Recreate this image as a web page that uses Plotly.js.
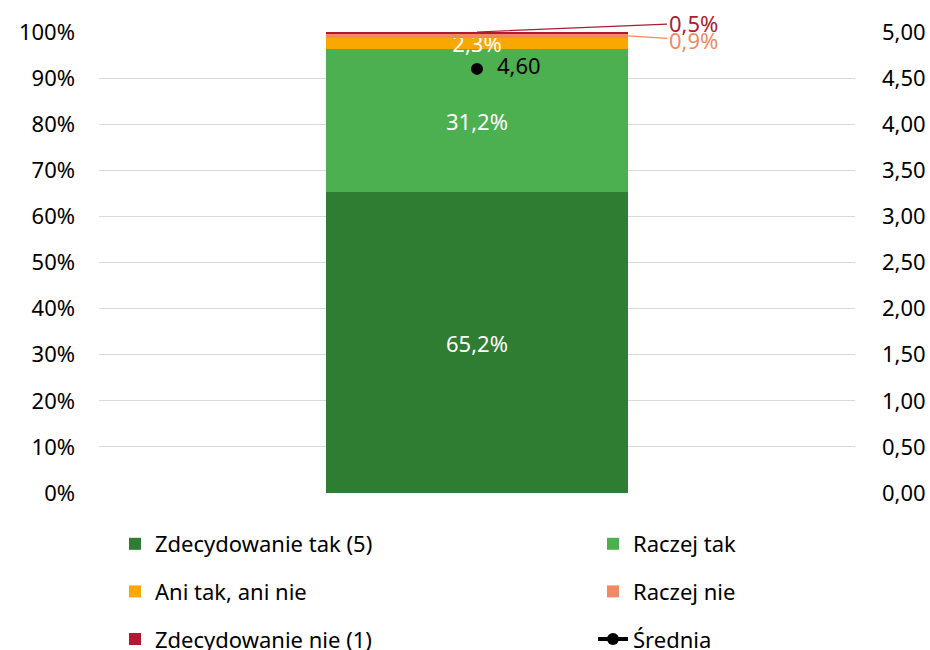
<!DOCTYPE html>
<html>
<head>
<meta charset="utf-8">
<script src="https://cdn.plot.ly/plotly-3.0.1.min.js"></script>
<style>html,body{margin:0;padding:0;background:#fff;}#chart{width:930px;height:650px;}</style>
</head>
<body>
<div id="chart"></div>
<script>
const categories = ['Ocena'];
const seriesNames = ['Zdecydowanie tak (5)', 'Raczej tak', 'Ani tak, ani nie', 'Raczej nie', 'Zdecydowanie nie (1)'];
const zdecydowanieTak = [65.2];
const raczejTak = [31.2];
const aniTakAniNie = [2.3];
const raczejNie = [0.9];
const zdecydowanieNie = [0.5];
const meanName = 'Średnia';
const srednia = [4.60];
const leftTicks = [0, 10, 20, 30, 40, 50, 60, 70, 80, 90, 100];
const leftTickLabels = ['0%', '10%', '20%', '30%', '40%', '50%', '60%', '70%', '80%', '90%', '100%'];
const rightTicks = [0, 0.5, 1, 1.5, 2, 2.5, 3, 3.5, 4, 4.5, 5];

const colors = ['#2E7D32', '#4CAF50', '#F8A800', '#F08A64', '#B01A2E'];
const seriesValues = [zdecydowanieTak, raczejTak, aniTakAniNie, raczejNie, zdecydowanieNie];
const legendFor = ['legend', 'legend2', 'legend', 'legend2', 'legend'];
const showInside = [true, true, true, false, false];
const FONT = 'Noto Sans, sans-serif';
const barWidth = 0.4;

const traces = seriesValues.map((vals, i) => ({
  type: 'bar',
  name: seriesNames[i],
  x: categories,
  y: vals,
  width: barWidth,
  marker: {color: colors[i]},
  text: vals,
  texttemplate: showInside[i] ? '%{y:.1f}%' : '',
  textposition: showInside[i] ? 'inside' : 'none',
  insidetextanchor: 'middle',
  constraintext: 'none',
  cliponaxis: false,
  textfont: {color: '#ffffff', size: 22, family: FONT},
  legend: legendFor[i],
  legendgroup: 'g' + i,
  hoverinfo: 'skip'
}));

traces.push({
  type: 'scatter',
  mode: 'lines+markers+text',
  name: meanName,
  x: categories,
  y: srednia,
  yaxis: 'y2',
  line: {color: '#000000', width: 4},
  marker: {color: '#000000', size: 12},
  texttemplate: '\u00a0\u00a0%{y:.2f}',
  textposition: 'middle right',
  textfont: {color: '#000000', size: 22, family: FONT},
  cliponaxis: false,
  legend: 'legend2',
  legendgroup: 'g5'
});

// cumulative tops for outside labels
const cum = [];
let acc = 0;
seriesValues.forEach(v => { acc += v[0]; cum.push(acc); });

const annotations = [
  {
    x: 0, xref: 'x', y: Math.min(cum[4], 100), yref: 'y',
    text: zdecydowanieNie[0].toFixed(1).replace('.', ',') + '%',
    showarrow: true, arrowhead: 0, arrowwidth: 1.2, arrowcolor: colors[4],
    ax: 216, ay: -9, axref: 'pixel', ayref: 'pixel',
    font: {color: colors[4], size: 22, family: FONT}
  },
  {
    x: barWidth / 2, xref: 'x', y: cum[2] + raczejNie[0] / 2, yref: 'y',
    text: raczejNie[0].toFixed(1).replace('.', ',') + '%',
    showarrow: true, arrowhead: 0, arrowwidth: 1.2, arrowcolor: colors[3],
    ax: 65, ay: 4, axref: 'pixel', ayref: 'pixel',
    font: {color: colors[3], size: 22, family: FONT}
  }
];

const legendCommon = {
  orientation: 'v',
  xref: 'container', yref: 'container',
  xanchor: 'left', yanchor: 'top',
  traceorder: 'grouped',
  tracegroupgap: 16,
  font: {size: 22, family: FONT, color: '#000000'},
  bgcolor: 'rgba(0,0,0,0)'
};

const layout = {
  width: 930, height: 650,
  margin: {l: 99, r: 75, t: 32, b: 157, autoexpand: false},
  paper_bgcolor: '#ffffff', plot_bgcolor: '#ffffff',
  separators: ', ',
  barmode: 'stack',
  font: {family: FONT, size: 20, color: '#000000'},
  showlegend: true,
  xaxis: {
    type: 'category', range: [-0.5, 0.5], automargin: false,
    showticklabels: false, showgrid: false, zeroline: false, showline: false, ticks: ''
  },
  yaxis: {
    range: [0, 100], tickvals: leftTicks, ticktext: leftTickLabels, automargin: false,
    showgrid: true, gridcolor: '#D9D9D9', gridwidth: 1, zeroline: false, showline: false,
    ticklabelstandoff: 23,
    tickfont: {size: 22, family: FONT, color: '#000000'}
  },
  yaxis2: {
    overlaying: 'y', side: 'right', range: [0, 5], tickvals: rightTicks, tickformat: '.2f',
    automargin: false,
    showgrid: false, zeroline: false, showline: false,
    ticklabelstandoff: 26,
    tickfont: {size: 22, family: FONT, color: '#000000'}
  },
  legend: Object.assign({}, legendCommon, {x: 115 / 930, y: 1 - 523 / 650}),
  legend2: Object.assign({}, legendCommon, {x: 593 / 930, y: 1 - 523 / 650}),
  annotations: annotations
};

Plotly.newPlot('chart', traces, layout, {staticPlot: true, displayModeBar: false});
</script>
</body>
</html>
